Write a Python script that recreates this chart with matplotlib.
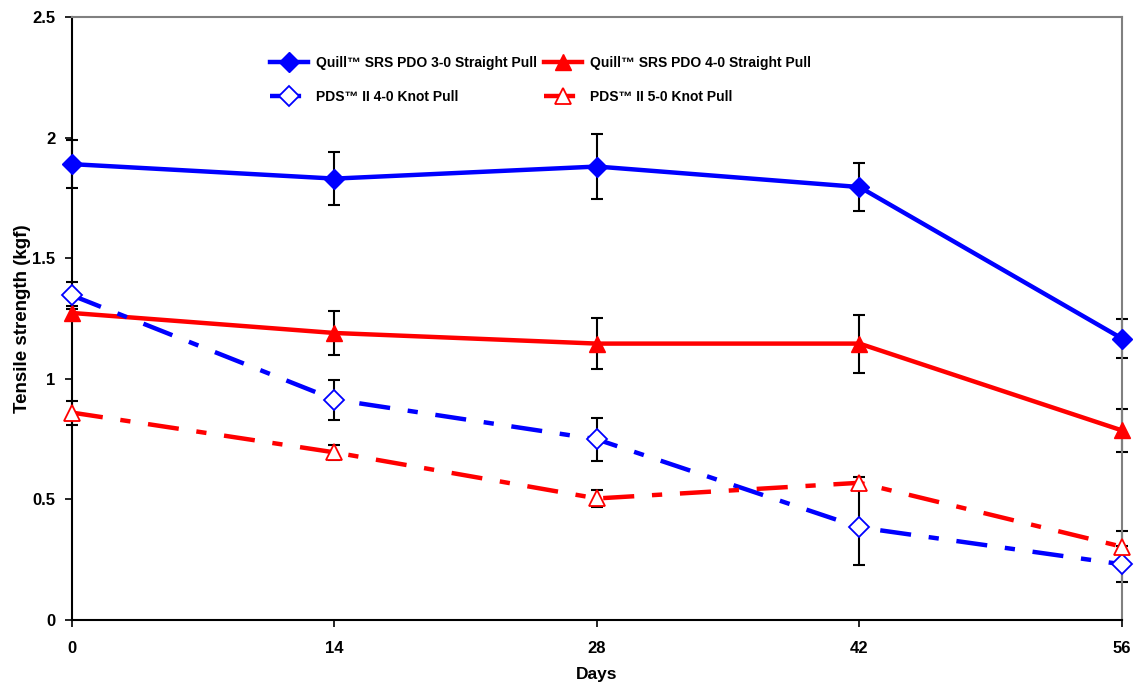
import matplotlib
matplotlib.use('Agg')
import matplotlib.pyplot as plt

plt.rcParams['font.family'] = ['Liberation Sans', 'DejaVu Sans']
plt.rcParams['font.weight'] = 'bold'

# data
days = [0, 14, 28, 42, 56]
quill_30 = [1.89, 1.83, 1.88, 1.795, 1.167]
quill_30_err = [0.10, 0.11, 0.135, 0.10, 0.08]
quill_40 = [1.273, 1.19, 1.146, 1.146, 0.786]
quill_40_err = [0.03, 0.09, 0.105, 0.12, 0.09]
pds_40 = [1.346, 0.914, 0.749, 0.384, 0.231]
pds_40_err = [0.055, 0.083, 0.09, 0.155, 0.075]
pds_50 = [0.86, 0.695, 0.504, 0.569, 0.304]
pds_50_err = [0.05, 0.03, 0.035, 0.025, 0.065]

labels = ['Quill™ SRS PDO 3-0 Straight Pull', 'Quill™ SRS PDO 4-0 Straight Pull',
          'PDS™ II 4-0 Knot Pull', 'PDS™ II 5-0 Knot Pull']

fig = plt.figure(figsize=(11.37, 6.88), dpi=100)
ax = fig.add_axes([0.0633, 0.0988, 0.9235, 0.8765])

dd = (7.0, 4.0, 2.3, 4.0)
ebkw = dict(fmt='none', ecolor='black', elinewidth=1.5, capsize=4, capthick=1.5,
            zorder=2, clip_on=False)

# error bars first
for y, e in [(quill_30, quill_30_err), (quill_40, quill_40_err),
             (pds_40, pds_40_err), (pds_50, pds_50_err)]:
    ax.errorbar(days, y, yerr=e, **ebkw)

l1, = ax.plot(days, quill_30, color='#0000FF', lw=3.2, marker='D', ms=10,
              mfc='#0000FF', mec='#0000FF', zorder=3, label=labels[0], clip_on=False)
l2, = ax.plot(days, quill_40, color='#FF0000', lw=3.2, marker='^', ms=12,
              mfc='#FF0000', mec='#FF0000', zorder=3, label=labels[1], clip_on=False)
l3, = ax.plot(days, pds_40, color='#0000FF', lw=3.2, marker='D', ms=10,
              mfc='white', mec='#0000FF', mew=1.3, zorder=3, label=labels[2],
              dashes=dd, dash_capstyle='butt', clip_on=False)
l4, = ax.plot(days, pds_50, color='#FF0000', lw=3.2, marker='^', ms=12,
              mfc='white', mec='#FF0000', mew=1.3, zorder=3, label=labels[3],
              dashes=dd, dash_capstyle='butt', clip_on=False)

ax.set_xlim(0, 56)
ax.set_ylim(0, 2.5)
ax.set_xticks(days)
ax.set_yticks([0, 0.5, 1, 1.5, 2, 2.5])
ax.set_yticklabels(['0', '0.5', '1', '1.5', '2', '2.5'])
ax.tick_params(direction='out', length=5, width=1.2, labelsize=12)
ax.tick_params(axis='x', pad=10)
ax.tick_params(axis='y', pad=7)
for t in ax.get_xticklabels() + ax.get_yticklabels():
    t.set_fontweight('bold')

for s in ['top', 'right']:
    ax.spines[s].set_color('#808080')
    ax.spines[s].set_linewidth(1.5)
for s in ['left', 'bottom']:
    ax.spines[s].set_color('black')
    ax.spines[s].set_linewidth(1.5)

ax.set_xlabel('Days', fontsize=12.5, fontweight='bold', labelpad=8)
ax.set_ylabel('Tensile strength (kgf)', fontsize=13.5, fontweight='bold', labelpad=1)

ax.legend(handles=[l1, l3, l2, l4], ncol=2, frameon=False,
          loc='upper left', bbox_to_anchor=(0.177, 0.956), handlelength=2.7,
          handletextpad=0.6, columnspacing=0.5, labelspacing=1.45,
          prop={'weight': 'bold', 'size': 10})

fig.savefig('out.png', dpi=100)
